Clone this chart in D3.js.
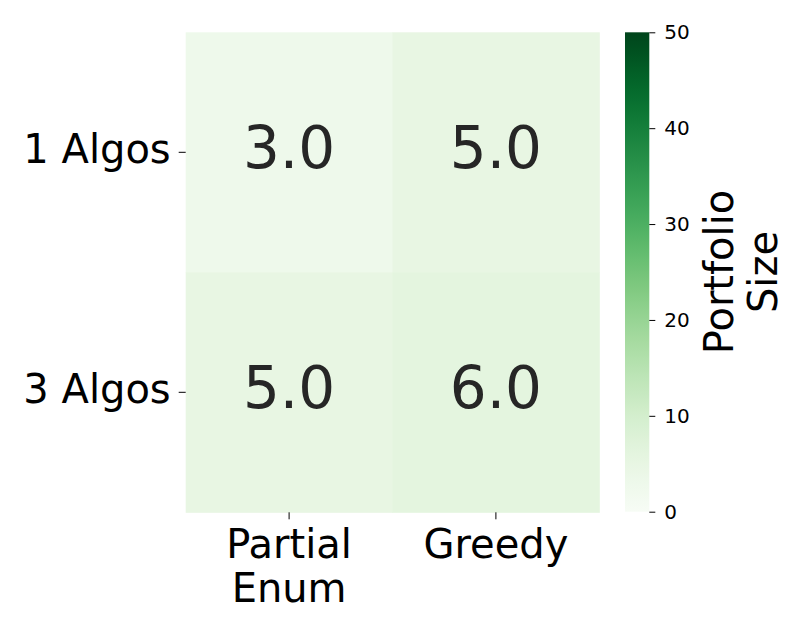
<!DOCTYPE html>
<html><head><meta charset="utf-8">
<script src="https://cdn.jsdelivr.net/npm/d3@7"></script>
<style>body{margin:0;background:#fff;} svg{display:block;font-family:"DejaVu Sans",sans-serif;}</style>
</head><body>
<svg id="chart" width="793" height="634"></svg>
<script>
const rows = ["1 Algos", "3 Algos"];
const cols = [["Partial", "Enum"], ["Greedy"]];
const colKeys = ["Partial Enum", "Greedy"];
const values = [[3.0, 5.0], [5.0, 6.0]];
const cbarTicks = [0, 10, 20, 30, 40, 50];
const cbarLabel = ["Portfolio", "Size"];

const svg = d3.select("#chart");
const L = 185.7, R = 599.3, T = 32.3, B = 512.3;
const x = d3.scaleBand().domain(colKeys).range([L, R]);
const y = d3.scaleBand().domain(rows).range([T, B]);
const color = d3.scaleSequential(d3.interpolateGreens).domain([0, 50]);

const cells = [];
rows.forEach((r, i) => colKeys.forEach((c, j) => cells.push({r, c, v: values[i][j]})));

svg.append("g").selectAll("rect").data(cells).join("rect")
  .attr("x", d => x(d.c)).attr("y", d => y(d.r))
  .attr("width", x.bandwidth() + 0.5).attr("height", y.bandwidth() + 0.5)
  .attr("fill", d => color(d.v));

svg.append("g").selectAll("text").data(cells).join("text")
  .attr("x", d => x(d.c) + x.bandwidth() / 2)
  .attr("y", d => y(d.r) + y.bandwidth() / 2 + 16)
  .attr("text-anchor", "middle")
  .attr("font-size", 58).attr("fill", "#262626")
  .text(d => d.v.toFixed(1));

// y axis
const yAxis = svg.append("g").attr("transform", `translate(${L},0)`)
  .call(d3.axisLeft(y).tickSize(7).tickPadding(8).tickFormat(d => d));
yAxis.select(".domain").remove();
yAxis.selectAll("text").attr("font-size", 40).attr("fill", "#000").attr("font-family", "DejaVu Sans").attr("dy", "0.275em");
yAxis.selectAll("line").attr("stroke", "#000").attr("stroke-width", 1);

// x axis
const xAxis = svg.append("g").attr("transform", `translate(0,${B})`)
  .call(d3.axisBottom(x).tickSize(7).tickFormat(""));
xAxis.select(".domain").remove();
xAxis.selectAll("line").attr("stroke", "#000").attr("stroke-width", 1);
xAxis.selectAll(".tick").each(function(d, i) {
  const t = d3.select(this).append("text")
    .attr("text-anchor", "middle").attr("font-size", 40).attr("fill", "#000")
    .attr("font-family", "DejaVu Sans");
  cols[i].forEach((line, k) => t.append("tspan").attr("x", 0).attr("y", 46 + k * 43.4).text(line));
});

// colorbar
const cx0 = 625, cx1 = 649.3;
const cy = d3.scaleLinear().domain([0, 50]).range([511.7, 32.3]);
const defs = svg.append("defs");
const grad = defs.append("linearGradient").attr("id", "cb").attr("x1", 0).attr("y1", 1).attr("x2", 0).attr("y2", 0);
d3.range(0, 51, 1).forEach(v => grad.append("stop").attr("offset", v / 50).attr("stop-color", color(v)));
svg.append("rect").attr("x", cx0).attr("y", cy(50)).attr("width", cx1 - cx0).attr("height", cy(0) - cy(50)).attr("fill", "url(#cb)");
const cAxis = svg.append("g").attr("transform", `translate(${cx1},0)`)
  .call(d3.axisRight(cy).tickValues(cbarTicks).tickSize(6).tickPadding(9));
cAxis.select(".domain").remove();
cAxis.selectAll("text").attr("font-size", 20).attr("fill", "#000").attr("font-family", "DejaVu Sans");
cAxis.selectAll("line").attr("stroke", "#000");

const lab = svg.append("text").attr("transform", `translate(733.3,${(cy(0) + cy(50)) / 2}) rotate(-90)`)
  .attr("text-anchor", "middle").attr("font-size", 40).attr("fill", "#000");
cbarLabel.forEach((line, k) => lab.append("tspan").attr("x", 0).attr("y", k * 43.4).text(line));
</script>
</body></html>
